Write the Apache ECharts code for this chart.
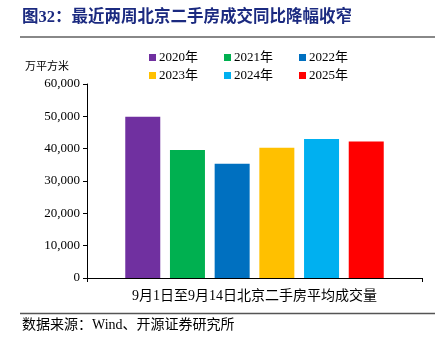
<!DOCTYPE html>
<html>
<head>
<meta charset="utf-8">
<script src="https://cdn.jsdelivr.net/npm/echarts@6/dist/echarts.min.js"></script>
<style>
  html, body { margin: 0; padding: 0; background: #fff; }
  #chart { width: 435px; height: 338px; }
</style>
</head>
<body>
<div id="chart"></div>
<script>
// Beijing second-hand housing: average transaction area, Sep 1 – Sep 14
const categories = ['9月1日至9月14日北京二手房平均成交量'];
const years = ['2020年', '2021年', '2022年', '2023年', '2024年', '2025年'];
const volumes = [49900, 39600, 35300, 40300, 43000, 42200];
const colors = ['#7030A0', '#00B050', '#0070C0', '#FFC000', '#00B0F0', '#FF0000'];
const yTicks = [0, 10000, 20000, 30000, 40000, 50000, 60000];

const serif = '"Liberation Serif", "Times New Roman", "Noto Sans CJK SC", serif';

const chart = echarts.init(document.getElementById('chart'), null, { renderer: 'canvas' });

const series = years.map((y, i) => ({
  name: y,
  type: 'bar',
  data: [volumes[i]],
  barWidth: 35,
  barGap: '27.7%',
  itemStyle: { color: colors[i] }
}));

// one legend per year, laid out in two rows of three
const legendX = [149, 224, 299];
const legendY = [51, 69];
const legends = years.map((y, i) => ({
  data: [y],
  left: legendX[i % 3],
  top: legendY[Math.floor(i / 3)],
  itemWidth: 7,
  itemHeight: 7,
  icon: 'rect',
  padding: 0,
  itemGap: 0,
  textStyle: { fontFamily: serif, fontSize: 13, color: '#000', padding: [0, 0, 0, -2] },
  selectedMode: false
}));

chart.setOption({
  animation: false,
  backgroundColor: '#fff',
  legend: legends,
  grid: { left: 87, right: 13, top: 84, bottom: 60, containLabel: false },
  xAxis: {
    type: 'category',
    data: categories,
    axisLine: { lineStyle: { color: '#000', width: 1 } },
    axisTick: { show: true, alignWithLabel: false, length: 4, lineStyle: { color: '#000' } },
    axisLabel: { fontFamily: serif, fontSize: 14, color: '#000', margin: 11 }
  },
  yAxis: {
    type: 'value',
    min: yTicks[0],
    max: yTicks[yTicks.length - 1],
    interval: yTicks[1] - yTicks[0],
    splitLine: { show: false },
    axisLine: { show: true, lineStyle: { color: '#000', width: 1 } },
    axisTick: { show: true, length: 4, lineStyle: { color: '#000' } },
    axisLabel: {
      fontFamily: serif, fontSize: 13, color: '#000', margin: 7,
      formatter: v => v.toLocaleString('en-US')
    }
  },
  graphic: [
    {
      type: 'text', left: 22, top: 9,
      style: {
        text: '图32：最近两周北京二手房成交同比降幅收窄',
        font: 'bold 16.5px "Liberation Serif", "Noto Sans CJK SC", serif',
        fill: '#1B2A80'
      }
    },
    {
      type: 'line',
      shape: { x1: 20, y1: 37, x2: 435, y2: 37 },
      style: { stroke: '#888', lineWidth: 2 }
    },
    {
      type: 'text', left: 25, top: 60,
      style: {
        text: '万平方米',
        font: '11px "Noto Sans CJK SC", serif',
        fill: '#000'
      }
    },
    {
      type: 'line',
      shape: { x1: 20, y1: 313.5, x2: 435, y2: 313.5 },
      style: { stroke: '#555', lineWidth: 1.5 }
    },
    {
      type: 'text', left: 22, top: 318,
      style: {
        text: '数据来源：Wind、开源证券研究所',
        font: '14px "Liberation Serif", "Noto Sans CJK SC", serif',
        fill: '#000'
      }
    }
  ],
  series: series
});
</script>
</body>
</html>
